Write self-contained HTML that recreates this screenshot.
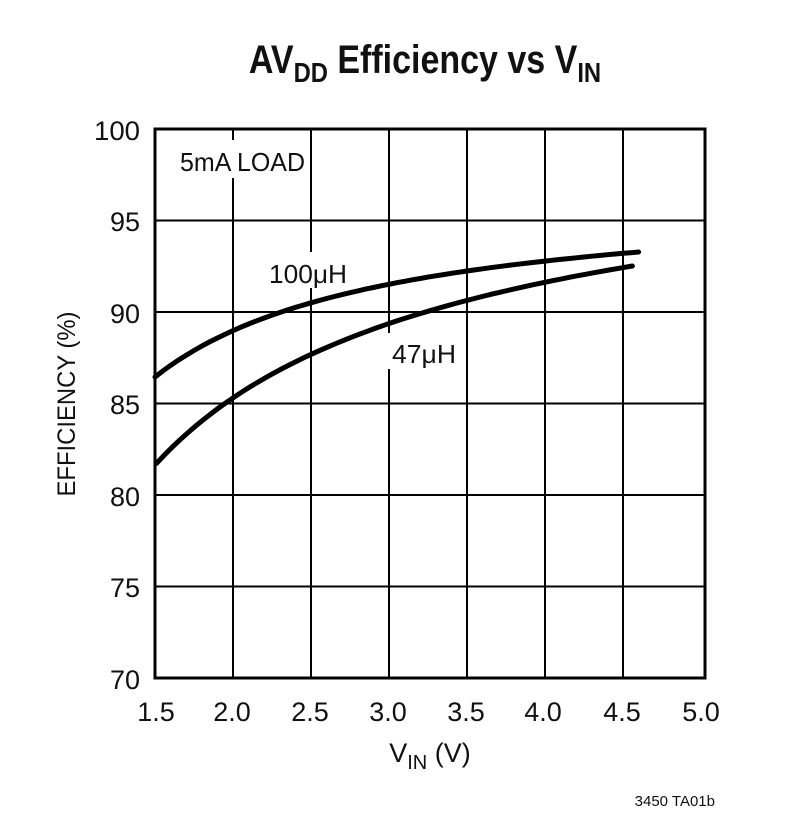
<!DOCTYPE html>
<html><head><style>
html,body{margin:0;padding:0;background:#fff;}
svg text{font-family:"Liberation Sans",sans-serif;fill:#111;}
</style></head><body>
<svg width="795" height="835" viewBox="0 0 795 835" xmlns="http://www.w3.org/2000/svg">
<g transform="translate(425,0) scale(0.85,1) translate(-425,0)">
<text x="425" y="73" text-anchor="middle" font-size="40" font-weight="bold">AV<tspan font-size="28" dy="9">DD</tspan><tspan dy="-9"> Efficiency vs V</tspan><tspan font-size="28" dy="9">IN</tspan></text>
</g>
<g stroke="#000" stroke-width="2" fill="none">
<line x1="233" y1="129" x2="233" y2="678"/><line x1="311" y1="129" x2="311" y2="678"/>
<line x1="389" y1="129" x2="389" y2="678"/><line x1="467" y1="129" x2="467" y2="678"/>
<line x1="545" y1="129" x2="545" y2="678"/><line x1="623" y1="129" x2="623" y2="678"/>
<line x1="155" y1="220.5" x2="705" y2="220.5"/><line x1="155" y1="312" x2="705" y2="312"/>
<line x1="155" y1="403.5" x2="705" y2="403.5"/><line x1="155" y1="495" x2="705" y2="495"/>
<line x1="155" y1="586.5" x2="705" y2="586.5"/>
</g>
<rect x="172" y="140" width="138" height="38" fill="#fff"/>
<rect x="266" y="252" width="84" height="36" fill="#fff"/>
<rect x="388" y="333" width="72" height="36" fill="#fff"/>
<rect x="155" y="129" width="550" height="549" fill="none" stroke="#000" stroke-width="3"/>
<g stroke="#000" stroke-width="5" fill="none" stroke-linecap="round">
<path id="c1"/>
<path id="c2"/>
</g>
<g font-size="26">
<text x="180" y="171" textLength="125" lengthAdjust="spacingAndGlyphs">5mA LOAD</text>
<text x="269" y="283" textLength="78" lengthAdjust="spacingAndGlyphs">100μH</text>
<text x="392" y="363" textLength="64" lengthAdjust="spacingAndGlyphs">47μH</text>
</g>
<g font-size="27" text-anchor="end">
<text x="140" y="140" textLength="46" lengthAdjust="spacingAndGlyphs">100</text><text x="140" y="231">95</text><text x="140" y="323">90</text>
<text x="140" y="414">85</text><text x="140" y="506">80</text><text x="140" y="597">75</text>
<text x="140" y="689">70</text>
</g>
<g font-size="27" text-anchor="middle">
<text x="156" y="721">1.5</text><text x="232" y="721">2.0</text><text x="310" y="721">2.5</text>
<text x="388" y="721">3.0</text><text x="466" y="721">3.5</text><text x="543" y="721">4.0</text>
<text x="622" y="721">4.5</text><text x="701" y="721">5.0</text>
</g>
<text x="430" y="762" font-size="27" text-anchor="middle">V<tspan font-size="20" dy="7">IN</tspan><tspan dy="-7"> (V)</tspan></text>
<text transform="translate(75,404) rotate(-90)" font-size="25" text-anchor="middle" textLength="185" lengthAdjust="spacingAndGlyphs">EFFICIENCY (%)</text>
<text x="715" y="806" font-size="15" text-anchor="end">3450 TA01b</text>
</svg>
<script>
function mk(y0,y1,p,x0,x1){var f=function(v){return Math.pow(v,-p);};var a=f(1.5),b=f(4.6),d="";
for(var v=x0;v<=x1+1e-9;v+=0.05){var px=155+(v-1.5)*156,py=y0+(y1-y0)*(a-f(v))/(a-b);d+=(d?"L":"M")+px.toFixed(1)+","+py.toFixed(1);}return d;}
document.getElementById("c1").setAttribute("d",mk(377,252,1,1.5,4.6));
document.getElementById("c2").setAttribute("d",mk(465,265,0.7,1.51,4.59));
</script>
</body></html>
